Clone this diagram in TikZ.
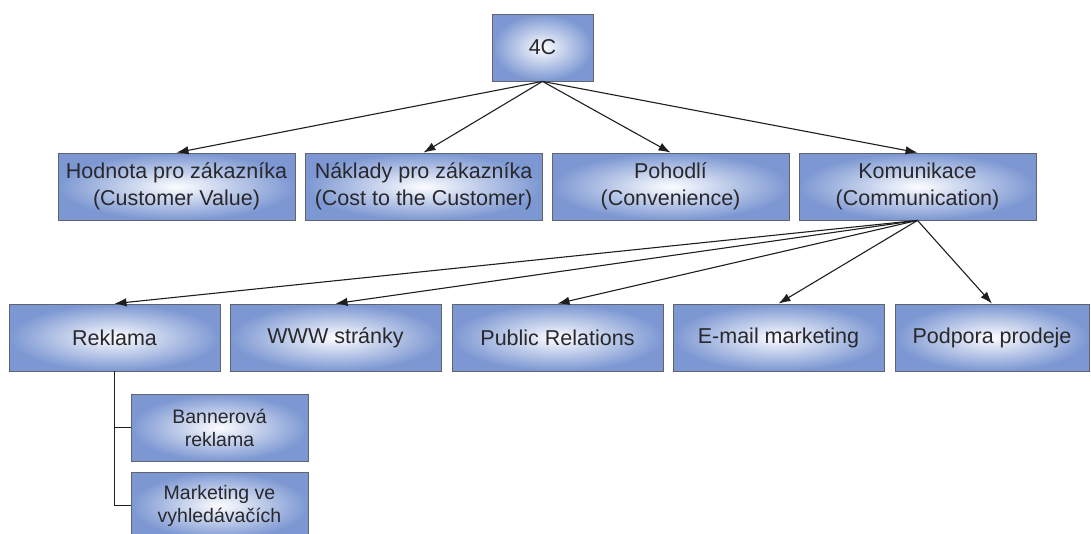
\documentclass[tikz,border=0pt]{standalone}
\usepackage{fontspec}
\setmainfont{Liberation Sans}
\usetikzlibrary{arrows.meta}

\definecolor{boxblue}{RGB}{124,151,210}
\definecolor{boxglow}{RGB}{252,253,255}
\definecolor{boxline}{RGB}{95,100,110}
\definecolor{inkline}{RGB}{30,30,30}
\definecolor{textink}{RGB}{40,40,45}

\tikzset{
  box/.style={draw=boxline, line width=0.8pt, shading=radial,
    inner color=boxglow, outer color=boxblue, rectangle,
    inner sep=0pt, text=textink, align=center,
    font=\fontsize{21.5}{27.5}\selectfont},
  topbox/.style={box, minimum width=101pt, minimum height=67pt},
  midbox/.style={box, minimum width=237pt, minimum height=67pt},
  lowbox/.style={box, minimum width=211pt, minimum height=67pt},
  subbox/.style={box, minimum width=177pt, minimum height=67pt,
    font=\fontsize{19.5}{23}\selectfont},
  link/.style={draw=inkline, line width=1.1pt, -{Latex[length=12pt,width=8.5pt]}},
  tree/.style={draw=inkline, line width=1.1pt},
}

\begin{document}
\begin{tikzpicture}[x=1pt,y=-1pt]
  \useasboundingbox (0,0) rectangle (1091,533);
  \clip (0,0) rectangle (1091,533);

  % root
  \node[topbox] (c4) at (542.5,47.5) {4C};

  % the four Cs
  \node[midbox] (hod) at (176.5,186.5) {Hodnota pro zákazníka\\(Customer Value)};
  \node[midbox] (nak) at (423.5,186.5) {Náklady pro zákazníka\\(Cost to the Customer)};
  \node[midbox] (poh) at (670.5,186.5) {Pohodlí\\(Convenience)};
  \node[midbox] (kom) at (917.5,186.5) {Komunikace\\(Communication)};

  % communication channels
  \node[lowbox] (rek) at (114.5,337.5) {Reklama};
  \node[lowbox] (www) at (335.5,337.5) {WWW stránky};
  \node[lowbox] (pr)  at (557.5,337.5) {Public Relations};
  \node[lowbox] (em)  at (778.5,337.5) {E-mail marketing};
  \node[lowbox, minimum width=194pt] (pod) at (992,337.5) {Podpora prodeje};

  % advertising sub-items
  \node[subbox] (ban) at (219.5,427.5) {Bannerová\\reklama};
  \node[subbox] (mar) at (219.5,505.5) {Marketing ve\\vyhledávačích};

  % arrows from the root
  \foreach \t in {hod,nak,poh,kom}
    \draw[link] (c4.south) -- (\t.north);

  % arrows from communication
  \foreach \t in {rek,www,pr,em,pod}
    \draw[link] (kom.south) -- (\t.north);

  % tree lines under Reklama
  \coordinate (trunk) at (rek.south |- mar.west);
  \draw[tree] (rek.south) -- (trunk) -- (mar.west);
  \draw[tree] (rek.south |- ban.west) -- (ban.west);
\end{tikzpicture}
\end{document}
